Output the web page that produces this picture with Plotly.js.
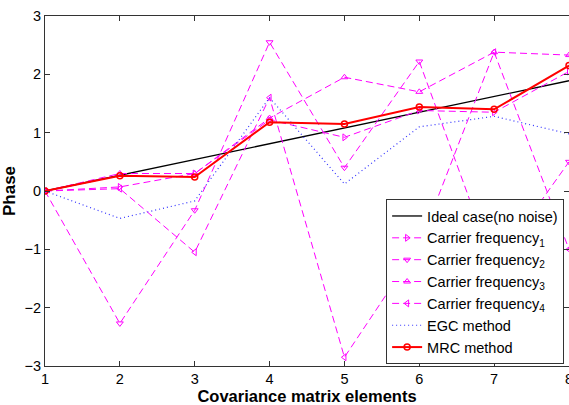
<!DOCTYPE html>
<html><head><meta charset="utf-8">
<script src="https://cdn.plot.ly/plotly-3.0.1.min.js"></script>
<style>html,body{margin:0;padding:0;background:#fff}#chart{width:569px;height:405px}</style>
</head><body><div id="chart"></div>
<script>
const xs = [1, 2, 3, 4, 5, 6, 7, 8];
const ideal = [0, 0.27, 0.54, 0.81, 1.08, 1.35, 1.62, 1.89];
const cf1 = [0, 0.07, 0.30, 1.22, 0.92, 1.38, 1.35, 2.05];
const cf2 = [0, -2.27, -0.33, 2.55, 0.40, 2.22, -1.30, 0.50];
const cf3 = [0, 0.30, 0.30, 1.25, 1.95, 1.70, 2.38, 2.33];
const cf4 = [0, 0.04, -1.05, 1.60, -2.85, -0.93, 2.38, -1.00];
const egc = [0, -0.47, -0.17, 1.60, 0.12, 1.10, 1.28, 0.98];
const mrc = [0, 0.26, 0.24, 1.18, 1.15, 1.44, 1.40, 2.15];
const names = ['Ideal case(no noise)', 'Carrier frequency<sub>1</sub>', 'Carrier frequency<sub>2</sub>',
  'Carrier frequency<sub>3</sub>', 'Carrier frequency<sub>4</sub>', 'EGC method', 'MRC method'];

const mag = '#ff00ff';
function cf(y, sym, i) {
  return {x: xs, y: y, name: names[i], mode: 'lines+markers',
    line: {color: mag, width: 1, dash: '7px,4px'},
    marker: {symbol: sym, size: 6, color: mag, line: {color: mag, width: 1}}};
}
const data = [
  {x: xs, y: ideal, name: names[0], mode: 'lines', line: {color: '#000', width: 1.3}},
  cf(cf1, 'triangle-right-open', 1),
  cf(cf2, 'triangle-down-open', 2),
  cf(cf3, 'triangle-up-open', 3),
  cf(cf4, 'triangle-left-open', 4),
  {x: xs, y: egc, name: names[5], mode: 'lines', line: {color: '#3333ff', width: 1.2, dash: '1px,3px'}},
  {x: xs, y: mrc, name: names[6], mode: 'lines+markers', line: {color: '#ff0000', width: 2},
    marker: {symbol: 'circle-open', size: 6, color: '#ff0000', line: {color: '#ff0000', width: 1.5}}}
];
const ax = {showline: true, mirror: 'ticks', linecolor: '#333', linewidth: 1, ticks: 'inside',
  ticklen: 5, tickcolor: '#333', zeroline: false, showgrid: false, ticklabeloverflow: 'allow',
  tickfont: {family: 'Liberation Sans, Arial', size: 14.5, color: '#000'}};
const layout = {
  width: 569, height: 405,
  margin: {l: 45, r: 0, t: 16, b: 39},
  paper_bgcolor: '#fff', plot_bgcolor: '#fff',
  showlegend: true,
  xaxis: Object.assign({}, ax, {range: [1, 8], dtick: 1,
    title: {text: '<b>Covariance matrix elements</b>',
      font: {family: 'Liberation Sans, Arial', size: 16.5, color: '#000'}}}),
  yaxis: Object.assign({}, ax, {range: [-3, 3], dtick: 1,
    title: {text: '<b>Phase</b>', standoff: 4,
      font: {family: 'Liberation Sans, Arial', size: 17, color: '#000'}}}),
  legend: {x: 0.651, y: 0.477, xanchor: 'left', yanchor: 'top', bgcolor: '#fff',
    bordercolor: '#333', borderwidth: 1, tracegroupgap: 0, itemwidth: 30,
    font: {family: 'Liberation Sans, Arial', size: 14.5, color: '#000'}}
};
Plotly.newPlot('chart', data, layout, {displayModeBar: false, staticPlot: true});
</script></body></html>
